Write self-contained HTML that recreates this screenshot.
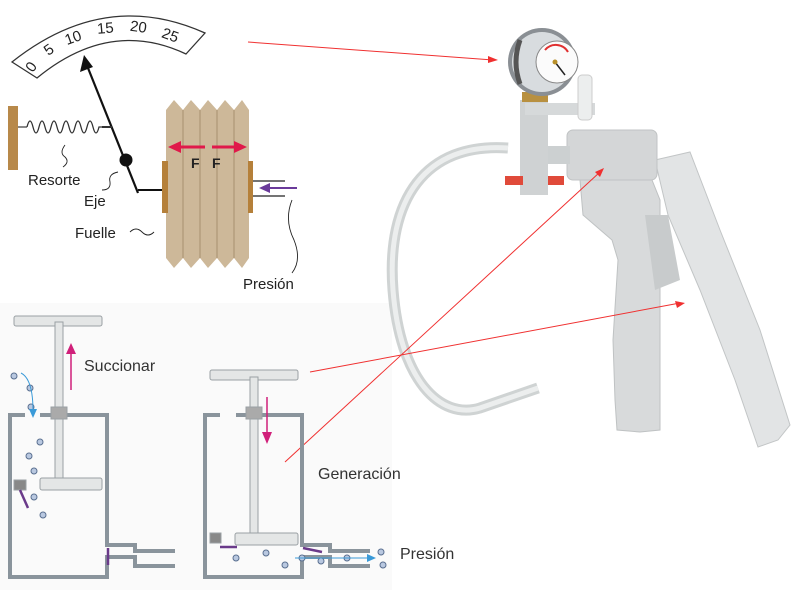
<!DOCTYPE html><html><head><style>body{margin:0;background:#fff}svg{display:block}text{font-family:"Liberation Sans",sans-serif}</style></head><body>
<svg width="800" height="590" viewBox="0 0 800 590" xmlns="http://www.w3.org/2000/svg">
<rect x="0" y="303" width="392" height="287" fill="#fafafa"/>
<path d="M12,62 Q105,-12 205,33 L186,54 Q110,18 37,78 Z" fill="#fff" stroke="#333" stroke-width="1.3"/>
<g font-size="15" fill="#222">
<text x="25" y="70" transform="rotate(-55 32 64)">0</text>
<text x="45" y="54" transform="rotate(-35 50 50)">5</text>
<text x="65" y="42" transform="rotate(-20 75 38)">10</text>
<text x="97" y="33" transform="rotate(-5 107 28)">15</text>
<text x="130" y="32" transform="rotate(8 140 28)">20</text>
<text x="162" y="40" transform="rotate(20 170 35)">25</text>
</g>
<line x1="138" y1="193" x2="88" y2="68" stroke="#111" stroke-width="2.2"/>
<polygon points="84,55 80,72 93,67" fill="#111"/>
<line x1="138" y1="190" x2="163" y2="190" stroke="#111" stroke-width="2"/>
<line x1="102" y1="127" x2="112" y2="127" stroke="#333" stroke-width="2"/>
<circle cx="126" cy="160" r="6.5" fill="#111"/>
<rect x="8" y="106" width="10" height="64" fill="#b8894a"/>
<line x1="18" y1="127" x2="27" y2="127" stroke="#888" stroke-width="2"/>
<path d="M27,127 q3,-12 6,0 q3,12 6,0 q3,-12 6,0 q3,12 6,0 q3,-12 6,0 q3,12 6,0 q3,-12 6,0 q3,12 6,0 q3,-12 6,0 q3,12 6,0 q3,-12 6,0 q3,12 6,0 l4,0" fill="none" stroke="#333" stroke-width="1.3"/>
<path d="M166,110 L174,100 L183,110 L191,100 L200,110 L208,100 L217,110 L225,100 L234,110 L242,100 L249,110 L249,258 L242,268 L234,258 L225,268 L217,258 L208,268 L200,258 L191,268 L183,258 L174,268 L166,258 Z" fill="#cdb899"/>
<g stroke="#a8916f" stroke-width="1"><line x1="183" y1="110" x2="183" y2="258"/><line x1="200" y1="110" x2="200" y2="258"/><line x1="217" y1="110" x2="217" y2="258"/><line x1="234" y1="110" x2="234" y2="258"/></g>
<rect x="162" y="161" width="6" height="52" fill="#b5803a"/>
<rect x="248" y="161" width="5" height="52" fill="#b5803a"/>
<line x1="205" y1="147" x2="178" y2="147" stroke="#e0194a" stroke-width="3"/><polygon points="168,147 181,141 181,153" fill="#e0194a"/>
<line x1="212" y1="147" x2="236" y2="147" stroke="#e0194a" stroke-width="3"/><polygon points="247,147 234,141 234,153" fill="#e0194a"/>
<text x="191" y="168" font-size="14" font-weight="bold" fill="#222">F</text><text x="212" y="168" font-size="14" font-weight="bold" fill="#222">F</text>
<line x1="253" y1="181" x2="285" y2="181" stroke="#222" stroke-width="1.3"/><line x1="253" y1="196" x2="285" y2="196" stroke="#222" stroke-width="1.3"/>
<line x1="297" y1="188" x2="268" y2="188" stroke="#6a3a9a" stroke-width="2"/><polygon points="259,188 270,183 270,193" fill="#6a3a9a"/>
<g fill="none" stroke="#222" stroke-width="0.9"><path d="M65,145 q-6,8 0,12 q5,5 -2,10"/><path d="M118,172 q-10,2 -8,10 q1,8 -8,8"/><path d="M130,232 q6,-6 12,0 q6,6 12,0"/><path d="M292,200 q-8,20 2,40 q8,20 -2,33"/></g>
<g font-size="15" fill="#222"><text x="28" y="185">Resorte</text><text x="84" y="206">Eje</text><text x="75" y="238">Fuelle</text><text x="243" y="289">Presión</text></g>
<path d="M508,148 C425,142 386,200 393,290 C400,380 440,420 480,408 L538,388" fill="none" stroke="#cfd3d3" stroke-width="11"/>
<path d="M508,148 C425,142 386,200 393,290 C400,380 440,420 480,408 L538,388" fill="none" stroke="#eceeee" stroke-width="5"/>
<path d="M655,160 L690,152 L720,230 L760,330 L790,425 L778,440 L758,447 L735,380 L700,290 L668,215 Z" fill="#e2e4e5" stroke="#c2c5c6"/>
<path d="M580,180 L650,175 L660,200 L660,430 L640,432 L617,430 L615,400 L613,340 L618,260 L612,240 L583,215 Z" fill="#d8dadb" stroke="#bfc2c3"/>
<path d="M645,215 L668,215 L680,280 L655,290 Z" fill="#c8cbcc"/>
<rect x="567" y="130" width="90" height="50" rx="6" fill="#d4d6d7" stroke="#c0c3c4"/>
<rect x="540" y="146" width="30" height="18" fill="#ccd0d1"/>
<rect x="520" y="100" width="28" height="95" fill="#cfd2d3"/>
<rect x="525" y="103" width="70" height="12" fill="#d6d9da"/>
<rect x="578" y="75" width="14" height="45" rx="4" fill="#eceeee" stroke="#ccc"/>
<rect x="505" y="176" width="18" height="9" fill="#e04a3a"/>
<rect x="548" y="176" width="16" height="9" fill="#e04a3a"/>
<rect x="522" y="92" width="26" height="10" fill="#b89040"/>
<circle cx="542" cy="62" r="34" fill="#8a8f94"/><circle cx="542" cy="62" r="30" fill="#d8dcdf"/><path d="M520,40 Q512,62 520,84" stroke="#555" stroke-width="5" fill="none"/><circle cx="557" cy="62" r="21" fill="#fbfbfb" stroke="#888"/>
<path d="M545,50 A14,14 0 0 1 568,52" stroke="#e03030" stroke-width="2" fill="none"/>
<line x1="555" y1="62" x2="565" y2="75" stroke="#222" stroke-width="1.5"/><circle cx="555" cy="62" r="2.5" fill="#b8902a"/>
<g stroke="#f03030" stroke-width="1"><line x1="248" y1="42" x2="493" y2="60"/><line x1="310" y1="372" x2="680" y2="303"/><line x1="285" y1="462" x2="600" y2="172"/></g>
<polygon points="498,60 488,56 488,63" fill="#f03030"/><polygon points="685,303 675,301 677,308" fill="#f03030"/><polygon points="604,168 595,172 600,177" fill="#f03030"/>
<g fill="none" stroke="#8a949c" stroke-width="4">
<path d="M25,415 L10,415 L10,577 L107,577 L107,557 L135,557 L135,566 L175,566"/>
<path d="M40,415 L107,415 L107,545 L135,545 L135,551 L175,551"/>
<path d="M220,415 L205,415 L205,577 L302,577 L302,557 L330,557 L330,566 L370,566"/>
<path d="M236,415 L302,415 L302,545 L330,545 L330,551 L370,551"/>
</g>
<g fill="#e4e6e6" stroke="#9aa0a4" stroke-width="1">
<rect x="14" y="316" width="88" height="10" rx="2"/><rect x="55" y="322" width="8" height="158"/><rect x="40" y="478" width="62" height="12" rx="2"/><rect x="14" y="480" width="12" height="10" fill="#888"/><rect x="51" y="407" width="16" height="12" fill="#aaa"/>
<rect x="210" y="370" width="88" height="10" rx="2"/><rect x="250" y="377" width="8" height="158"/><rect x="235" y="533" width="63" height="12" rx="2"/><rect x="210" y="533" width="11" height="10" fill="#888"/><rect x="246" y="407" width="16" height="12" fill="#aaa"/>
</g>
<g stroke="#6a3a8a" stroke-width="2.5"><line x1="20" y1="490" x2="28" y2="508"/><line x1="108" y1="548" x2="108" y2="565"/><line x1="220" y1="547" x2="237" y2="547"/><line x1="303" y1="548" x2="322" y2="552"/></g>
<g fill="#b9c8e0" stroke="#5a6f90" stroke-width="1"><circle cx="14" cy="376" r="3"/><circle cx="30" cy="388" r="3"/><circle cx="31" cy="407" r="3"/><circle cx="40" cy="442" r="3"/><circle cx="29" cy="456" r="3"/><circle cx="34" cy="471" r="3"/><circle cx="34" cy="497" r="3"/><circle cx="43" cy="515" r="3"/>
<circle cx="236" cy="558" r="3"/><circle cx="266" cy="553" r="3"/><circle cx="285" cy="565" r="3"/><circle cx="302" cy="558" r="3"/><circle cx="321" cy="561" r="3"/><circle cx="347" cy="558" r="3"/><circle cx="381" cy="552" r="3"/><circle cx="383" cy="565" r="3"/></g>
<path d="M21,373 q12,6 12,38" fill="none" stroke="#3a9ad8" stroke-width="1"/><polygon points="33,418 29,409 37,409" fill="#3a9ad8"/>
<line x1="295" y1="558" x2="368" y2="558" stroke="#3a9ad8" stroke-width="1"/><polygon points="376,558 367,554 367,562" fill="#3a9ad8"/>
<line x1="71" y1="390" x2="71" y2="352" stroke="#d0207a" stroke-width="1.5"/><polygon points="71,343 66,354 76,354" fill="#d0207a"/>
<line x1="267" y1="397" x2="267" y2="433" stroke="#d0207a" stroke-width="1.5"/><polygon points="267,444 262,432 272,432" fill="#d0207a"/>
<g font-size="16" fill="#333"><text x="84" y="371">Succionar</text><text x="318" y="479">Generación</text><text x="400" y="559">Presión</text></g>
</svg></body></html>
